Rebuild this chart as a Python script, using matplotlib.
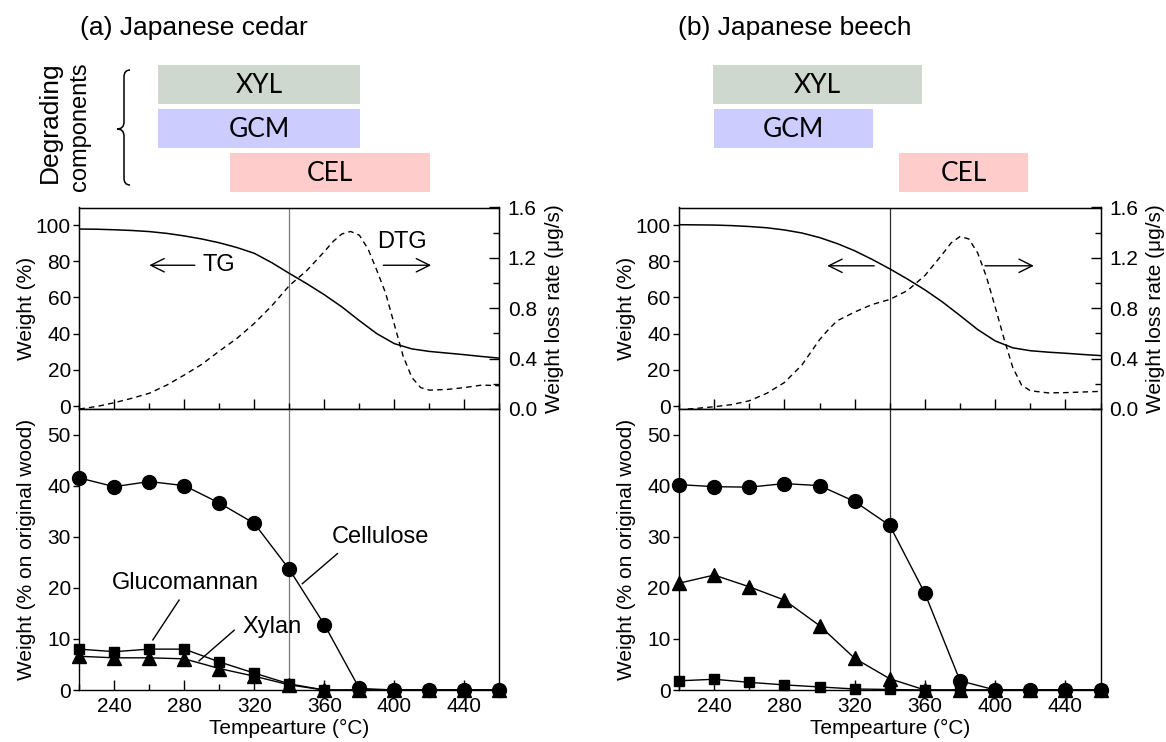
import matplotlib
matplotlib.use("Agg")
import matplotlib.pyplot as plt
from matplotlib.patches import Rectangle, PathPatch
from matplotlib.path import Path
from matplotlib.ticker import MultipleLocator, FormatStrFormatter
import matplotlib.transforms as mtransforms

plt.rcParams['font.family'] = ['Liberation Sans', 'DejaVu Sans']

# ---------------- data ----------------
temps = [220, 240, 260, 280, 300, 320, 340, 360, 380, 400, 420, 440, 460]

cedar_cellulose = [41.5, 39.8, 40.8, 40.0, 36.6, 32.6, 23.6, 12.8, 0.3, 0, 0, 0, 0]
cedar_glucomannan = [8.0, 7.5, 8.0, 8.0, 5.5, 3.3, 1.2, 0, 0, 0, 0, 0, 0]
cedar_xylan = [6.6, 6.3, 6.3, 6.1, 4.2, 2.7, 1.0, 0, 0, 0, 0, 0, 0]

beech_cellulose = [40.2, 39.8, 39.7, 40.4, 40.0, 36.9, 32.2, 18.9, 1.8, 0, 0, 0, 0]
beech_xylan = [20.9, 22.5, 20.2, 17.6, 12.6, 6.2, 2.2, 0, 0, 0, 0, 0, 0]
beech_glucomannan = [1.8, 2.1, 1.5, 1.0, 0.6, 0.2, 0.1, 0, 0, 0, 0, 0, 0]

tg_temp_a = [220, 230, 240, 250, 260, 270, 280, 290, 300, 310, 320, 330, 340,
             350, 360, 370, 380, 390, 400, 410, 420, 430, 440, 450, 460]
tg_a = [97.8, 97.7, 97.4, 97.0, 96.4, 95.4, 94.0, 92.3, 90.2, 87.6, 84.4,
        79.2, 73.3, 67.6, 61.5, 54.8, 47.2, 40.0, 34.5, 31.6, 30.2, 29.3,
        28.4, 27.4, 26.5]

dtg_temp_a = [220, 230, 240, 250, 260, 270, 280, 290, 300, 310, 320, 330, 340,
              350, 360, 365, 370, 375, 380, 385, 390, 395, 400, 405, 410, 415,
              420, 430, 440, 450, 460]
dtg_a = [0.0, 0.02, 0.05, 0.085, 0.125, 0.19, 0.27, 0.355, 0.46, 0.56, 0.68,
         0.82, 0.98, 1.10, 1.25, 1.33, 1.39, 1.41, 1.38, 1.27, 1.10, 0.92, 0.67,
         0.42, 0.25, 0.17, 0.15, 0.155, 0.17, 0.19, 0.185]

tg_temp_b = [220, 230, 240, 250, 260, 270, 280, 290, 300, 310, 320, 330, 340,
             350, 360, 370, 380, 390, 400, 410, 420, 430, 440, 450, 460]
tg_b = [100.2, 100.1, 100.0, 99.7, 99.2, 98.5, 97.3, 95.6, 93.1, 89.8, 85.8,
        81.0, 75.8, 70.2, 64.2, 57.5, 50.0, 42.3, 36.0, 32.2, 30.6, 29.8,
        29.2, 28.5, 27.9]

dtg_temp_b = [225, 230, 240, 250, 260, 270, 280, 290, 300, 305, 310, 320, 330,
              340, 350, 360, 370, 375, 380, 385, 390, 395, 400, 405, 410, 415,
              420, 430, 440, 450, 460]
dtg_b = [0.0, 0.005, 0.018, 0.035, 0.065, 0.125, 0.21, 0.35, 0.55, 0.63, 0.70,
         0.77, 0.83, 0.87, 0.94, 1.06, 1.23, 1.32, 1.37, 1.35, 1.24, 1.05, 0.81,
         0.56, 0.33, 0.19, 0.145, 0.128, 0.13, 0.135, 0.14]

titles = ["(a) Japanese cedar", "(b) Japanese beech"]
box_names = ["XYL", "GCM", "CEL"]
box_colors = ["#ced8ce", "#ccccff", "#ffcccc"]
cedar_boxes = [(265, 380.4), (265, 380.4), (306, 420.4)]
beech_boxes = [(239.4, 358.5), (240, 330.5), (345, 418.8)]

# ---------------- layout ----------------
W, H = 1166, 742
fig = plt.figure(figsize=(W / 100, H / 100), dpi=100)


def fx(px):
    return px / W


def fy(py):
    return 1 - py / H


TOP, MID, BOT = 207.5, 409, 690
panels = [
    dict(x0=79.3, x1=499.4, title_x=80, vcol="#7a7a7a",
         tg=(tg_temp_a, tg_a), dtg=(dtg_temp_a, dtg_a),
         boxes=cedar_boxes,
         series=[(cedar_cellulose, 'o', 10), (cedar_glucomannan, 's', 7.5),
                 (cedar_xylan, '^', 10)]),
    dict(x0=679, x1=1100.6, title_x=678, vcol="#2a2a2a",
         tg=(tg_temp_b, tg_b), dtg=(dtg_temp_b, dtg_b),
         boxes=beech_boxes,
         series=[(beech_cellulose, 'o', 10), (beech_xylan, '^', 10),
                 (beech_glucomannan, 's', 7.5)]),
]

box_rows = [(65, 104), (109, 148), (153, 192)]
arrow_kw = dict(arrowstyle='->', lw=1.0, color='k', mutation_scale=24,
                shrinkA=0, shrinkB=0)

axes_pairs = []
for i, p in enumerate(panels):
    x0, x1 = p['x0'], p['x1']
    axt = fig.add_axes([fx(x0), fy(MID), (x1 - x0) / W, (MID - TOP) / H])
    axb = fig.add_axes([fx(x0), fy(BOT), (x1 - x0) / W, (BOT - MID) / H])
    axes_pairs.append((axt, axb))

    for ax in (axt, axb):
        ax.set_xlim(220, 460)
        ax.xaxis.set_major_locator(MultipleLocator(40))
        ax.xaxis.set_minor_locator(MultipleLocator(20))
        ax.tick_params(axis='x', which='major', direction='in', length=7,
                       width=1, labelsize=15, pad=5)
        ax.tick_params(axis='x', which='minor', direction='in', length=4,
                       width=1)
        ax.tick_params(axis='y', which='major', direction='out', length=4,
                       width=1, labelsize=15, pad=2)
        for s in ax.spines.values():
            s.set_linewidth(1.0)
        ax.axvline(340, color=p['vcol'], lw=0.9, zorder=1)

    # ---- upper TG/DTG ----
    axt.set_ylim(-1.6, 109.7)
    axt.set_yticks([0, 20, 40, 60, 80, 100])
    axt.tick_params(axis='x', labelbottom=False)
    axt.plot(p['tg'][0], p['tg'][1], color='k', lw=1.1)
    axt.set_ylabel('Weight (%)', fontsize=15)
    axt.yaxis.set_label_coords(-0.102, 0.5)

    ax2 = axt.twinx()
    ax2.set_ylim(0, 1.6)
    ax2.yaxis.set_major_locator(MultipleLocator(0.4))
    ax2.yaxis.set_minor_locator(MultipleLocator(0.2))
    ax2.yaxis.set_major_formatter(FormatStrFormatter('%.1f'))
    ax2.tick_params(axis='y', which='major', direction='in', length=7,
                    width=1, labelsize=15, pad=6)
    ax2.tick_params(axis='y', which='minor', direction='in', length=4, width=1)
    ax2.plot(p['dtg'][0], p['dtg'][1], color='k', lw=1.0,
             linestyle=(0, (4, 3)))
    ax2.set_ylabel('Weight loss rate (\u03bcg/s)', fontsize=15)
    ax2.yaxis.set_label_coords(1.108, 0.5)

    # ---- lower component plot ----
    axb.set_ylim(0, 55)
    axb.set_yticks([0, 10, 20, 30, 40, 50])
    for vals, mk, ms in p['series']:
        axb.plot(temps, vals, color='k', lw=1.0, marker=mk, ms=ms,
                 clip_on=False, zorder=3)
    axb.set_xlabel('Tempearture (\u00b0C)', fontsize=15, labelpad=2)
    axb.set_ylabel('Weight (% on original wood)', fontsize=15)
    axb.yaxis.set_label_coords(-0.102, 0.5)

    # ---- title ----
    fig.text(fx(p['title_x']), fy(28), titles[i], fontsize=19,
             ha='left', va='center')

    # ---- degrading component boxes ----
    trans = mtransforms.blended_transform_factory(axt.transData,
                                                  fig.transFigure)
    for (bx0, bx1), name, col, (ry0, ry1) in zip(p['boxes'], box_names,
                                                 box_colors, box_rows):
        rect = Rectangle((bx0, fy(ry1)), bx1 - bx0, (ry1 - ry0) / H,
                         transform=trans, facecolor=col, edgecolor='none')
        fig.add_artist(rect)
        fig.text((bx0 + bx1) / 2, fy((ry0 + ry1) / 2 + 1), name,
                 transform=trans, ha='center', va='center', fontsize=19,
                 family='Lato')

# ---- annotations: cedar ----
axt, axb = axes_pairs[0]
axt.annotate('', xy=(260, 77.8), xytext=(286, 77.8), arrowprops=arrow_kw)
axt.text(299.5, 77.8, 'TG', fontsize=17, ha='center', va='center')
axt.text(404.6, 90.4, 'DTG', fontsize=17, ha='center', va='center')
axt.annotate('', xy=(421, 77.8), xytext=(393.7, 77.8), arrowprops=arrow_kw)

axb.text(392.2, 30, 'Cellulose', fontsize=17, ha='center', va='center')
axb.plot([367.5, 347.4], [26.7, 20.8], color='k', lw=1.0)
axb.text(280.8, 21, 'Glucomannan', fontsize=17, ha='center', va='center')
axb.plot([277, 262], [17.6, 9.8], color='k', lw=1.0)
axb.text(330.4, 12.4, 'Xylan', fontsize=17, ha='center', va='center')
axb.plot([308.5, 288.4], [11.7, 5.7], color='k', lw=1.0)

# ---- annotations: beech ----
axt, axb = axes_pairs[1]
axt.annotate('', xy=(304.4, 77.5), xytext=(331.1, 77.5), arrowprops=arrow_kw)
axt.annotate('', xy=(422, 77.5), xytext=(394.2, 77.5), arrowprops=arrow_kw)

# ---- "Degrading components" with brace ----
fig.text(fx(50), fy(122), 'Degrading', rotation=90, fontsize=19,
         ha='center', va='center')
fig.text(fx(80), fy(127), 'components', rotation=90, fontsize=17,
         ha='center', va='center')

bp = [(130, 70), (124, 70), (124, 77), (124, 122), (124, 129), (117, 129),
      (124, 129), (124, 136), (124, 178), (124, 185), (130, 185)]
codes = [Path.MOVETO, Path.CURVE3, Path.CURVE3, Path.LINETO, Path.CURVE3,
         Path.CURVE3, Path.CURVE3, Path.CURVE3, Path.LINETO, Path.CURVE3,
         Path.CURVE3]
brace = Path([(fx(a), fy(b)) for a, b in bp], codes)
fig.add_artist(PathPatch(brace, transform=fig.transFigure, facecolor='none',
                         edgecolor='k', lw=1.1))

fig.savefig('out.png', dpi=100)
